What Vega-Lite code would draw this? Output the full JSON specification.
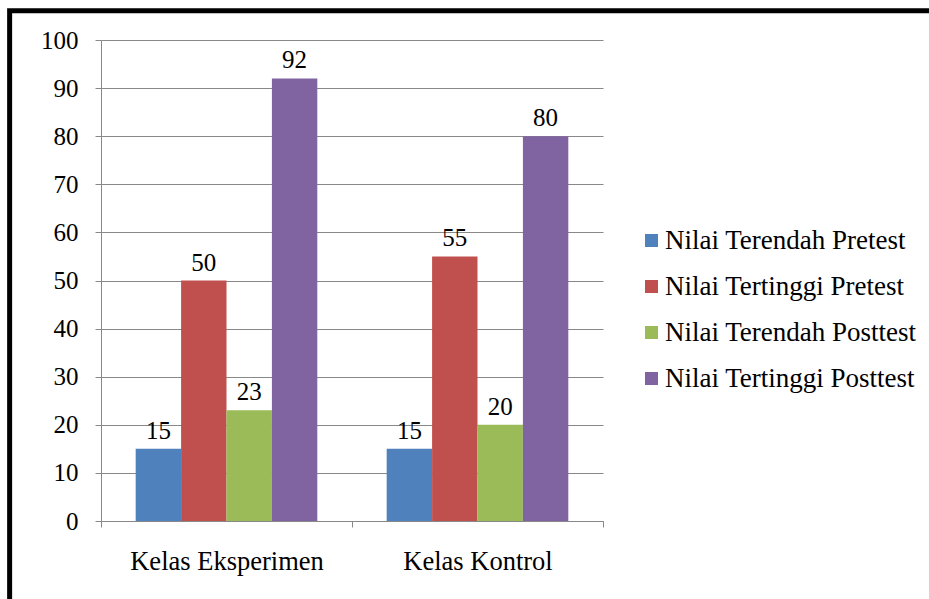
{
  "$schema": "https://vega.github.io/schema/vega-lite/v6.json",
  "width": 502,
  "height": 481,
  "autosize": {"type": "none"},
  "padding": {"left": 101, "top": 40, "right": 326, "bottom": 78},
  "background": "white",
  "config": {
    "font": "Liberation Serif",
    "view": {"stroke": null},
    "axis": {"labelFont": "Liberation Serif"},
    "legend": {"labelFont": "Liberation Serif"},
    "text": {"font": "Liberation Serif"}
  },
  "data": {
    "values": [
      {"kelas": "Kelas Eksperimen", "seri": "Nilai Terendah Pretest", "nilai": 15},
      {"kelas": "Kelas Eksperimen", "seri": "Nilai Tertinggi Pretest", "nilai": 50},
      {"kelas": "Kelas Eksperimen", "seri": "Nilai Terendah Posttest", "nilai": 23},
      {"kelas": "Kelas Eksperimen", "seri": "Nilai Tertinggi Posttest", "nilai": 92},
      {"kelas": "Kelas Kontrol", "seri": "Nilai Terendah Pretest", "nilai": 15},
      {"kelas": "Kelas Kontrol", "seri": "Nilai Tertinggi Pretest", "nilai": 55},
      {"kelas": "Kelas Kontrol", "seri": "Nilai Terendah Posttest", "nilai": 20},
      {"kelas": "Kelas Kontrol", "seri": "Nilai Tertinggi Posttest", "nilai": 80}
    ]
  },
  "resolve": {"scale": {"x": "independent"}, "axis": {"x": "independent"}},
  "layer": [
    {
      "data": {"values": [{"x1": -0.182, "x2": 1.9, "y1": 106.1, "y2": -25}]},
      "mark": {"type": "rect", "fill": null, "stroke": "black", "strokeWidth": 5, "clip": false},
      "encoding": {
        "x": {"field": "x1", "type": "quantitative", "scale": {"domain": [0, 1], "nice": false, "zero": false}, "axis": null},
        "x2": {"field": "x2"},
        "y": {"field": "y1", "type": "quantitative", "scale": {"domain": [0, 100]}},
        "y2": {"field": "y2"}
      }
    },
    {
      "encoding": {
        "x": {
          "field": "kelas", "type": "nominal", "sort": null,
          "scale": {"paddingInner": 0, "paddingOuter": 0},
          "axis": {
            "title": null, "labelAngle": 0, "labelFontSize": 26.5, "labelColor": "black",
            "labelFont": "Liberation Serif", "labelLimit": 400,
            "labelPadding": 21, "tickBand": "extent", "tickSize": 6,
            "tickColor": "#888888", "domainColor": "#888888", "grid": false
          }
        },
        "xOffset": {
          "field": "seri", "type": "nominal", "sort": null,
          "scale": {"paddingInner": 0, "paddingOuter": 0.764}
        },
        "y": {
          "field": "nilai", "type": "quantitative",
          "scale": {"domain": [0, 100], "nice": false},
          "axis": {
            "title": null, "values": [0,10,20,30,40,50,60,70,80,90,100],
            "labelOverlap": false, "labelFont": "Liberation Serif",
            "labelFontSize": 25, "labelColor": "black", "labelPadding": 17,
            "tickSize": 6, "tickColor": "#888888", "domainColor": "#888888",
            "grid": true, "gridColor": "#888888", "gridOpacity": 1
          }
        }
      },
      "layer": [
        {
          "mark": {"type": "bar"},
          "encoding": {
            "color": {
              "field": "seri", "type": "nominal", "sort": null,
              "scale": {
                "domain": ["Nilai Terendah Pretest", "Nilai Tertinggi Pretest", "Nilai Terendah Posttest", "Nilai Tertinggi Posttest"],
                "range": ["#4F81BD", "#C0504D", "#9BBB59", "#8064A2"]
              },
              "legend": {
                "title": null, "orient": "none", "legendX": 537, "legendY": 187,
                "symbolType": "square", "symbolSize": 169, "symbolStrokeWidth": 0,
                "labelFont": "Liberation Serif",
                "labelFontSize": 27, "labelColor": "black", "labelOffset": 0,
                "rowPadding": 18, "labelLimit": 400
              }
            }
          }
        },
        {
          "mark": {"type": "text", "font": "Liberation Serif", "fontSize": 25, "baseline": "alphabetic", "dy": -10, "color": "black"},
          "encoding": {
            "text": {"field": "nilai", "type": "quantitative"}
          }
        }
      ]
    }
  ]
}
